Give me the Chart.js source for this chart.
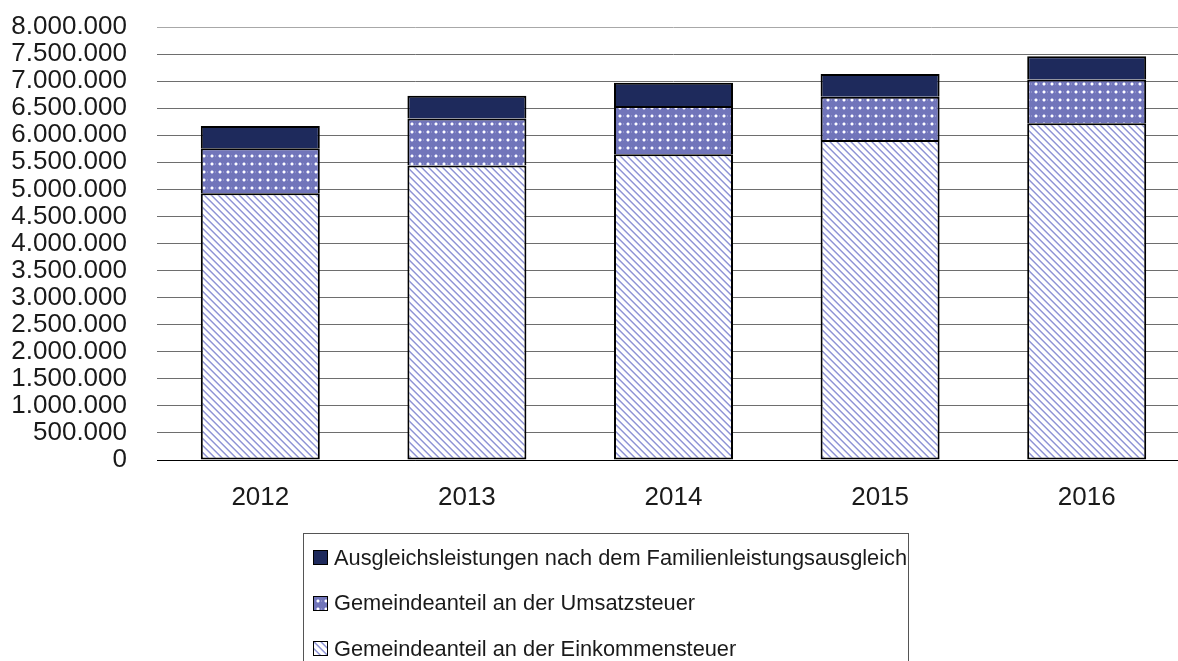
<!DOCTYPE html>
<html>
<head>
<meta charset="utf-8">
<script src="https://cdn.jsdelivr.net/npm/chart.js@4/dist/chart.umd.min.js"></script>
<style>
  html, body { margin: 0; padding: 0; background: #fff; overflow: hidden; }
  #wrap { position: relative; width: 1192px; height: 661px; overflow: hidden; }
  #c { position: absolute; left: 0; top: -16px; }
  #legend { position: absolute; left: 303px; top: 533px; width: 606px; height: 140px;
            border: 1px solid #555; box-sizing: border-box; padding-top: 1px;
            font-family: "Liberation Sans", Arial, sans-serif; font-size: 21.8px; color: #1a1a1a; }
  .item { height: 45.5px; display: flex; align-items: center; padding-left: 9px; white-space: nowrap; }
  .item canvas { border: 1px solid #000; margin-right: 6px; display: block; }
</style>
</head>
<body>
<div id="wrap">
  <canvas id="c" width="1192" height="677"></canvas>
  <div id="legend"></div>
</div>
<script>
// ---- data ----
const years = ['2012', '2013', '2014', '2015', '2016'];
const labelEinkommen = 'Gemeindeanteil an der Einkommensteuer';
const labelUmsatz = 'Gemeindeanteil an der Umsatzsteuer';
const labelAusgleich = 'Ausgleichsleistungen nach dem Familienleistungsausgleich';
const einkommensteuer = [4930000, 5440000, 5650000, 5910000, 6220000];
const umsatzsteuer = [830000, 870000, 890000, 800000, 810000];
const familienausgleich = [410000, 420000, 430000, 420000, 430000];
const yMax = 8000000;
const yStep = 500000;

// ---- patterns ----
function stripeTile() {
  const t = document.createElement('canvas'); t.width = 7; t.height = 7;
  const g = t.getContext('2d');
  g.fillStyle = '#ffffff'; g.fillRect(0, 0, 7, 7);
  for (let i = 0; i < 7; i++) {
    g.fillStyle = '#8f94d3'; g.fillRect(i, i, 1, 1);
    g.fillStyle = '#b3b6e4'; g.fillRect((i + 1) % 7, i, 1, 1);
    g.fillStyle = '#d4d6f1'; g.fillRect((i + 6) % 7, i, 1, 1);
  }
  return t;
}
function dotTile() {
  const t = document.createElement('canvas'); t.width = 8; t.height = 8;
  const g = t.getContext('2d');
  g.fillStyle = '#7175ba'; g.fillRect(0, 0, 8, 8);
  g.fillStyle = '#a9acdc'; g.fillRect(2, 3, 4, 2); g.fillRect(3, 2, 2, 4);
  g.fillStyle = '#ffffff'; g.fillRect(3, 3, 2, 2);
  g.fillStyle = '#8d90c8'; g.fillRect(7, 3, 1, 2);
  return t;
}
const ctx = document.getElementById('c').getContext('2d');
const stripePattern = ctx.createPattern(stripeTile(), 'repeat');
const dotPattern = ctx.createPattern(dotTile(), 'repeat');
const navy = '#1e2a5c';

function fmt(v) { return String(v).replace(/\B(?=(\d{3})+(?!\d))/g, '.'); }

const chart = new Chart(ctx, {
  type: 'bar',
  data: {
    labels: years,
    datasets: [
      { label: labelEinkommen, data: einkommensteuer, backgroundColor: stripePattern,
        borderColor: '#000', borderWidth: { top: 2, bottom: 2, left: 2, right: 2 }, borderSkipped: false },
      { label: labelUmsatz, data: umsatzsteuer, backgroundColor: dotPattern,
        borderColor: '#000', borderWidth: { top: 2, bottom: 0, left: 2, right: 2 }, borderSkipped: false },
      { label: labelAusgleich, data: familienausgleich, backgroundColor: navy,
        borderColor: '#000', borderWidth: { top: 2, bottom: 0, left: 2, right: 2 }, borderSkipped: false }
    ]
  },
  options: {
    responsive: false,
    animation: false,
    layout: { padding: { left: 0, right: 2, top: 10, bottom: 0 } },
    plugins: { legend: { display: false }, tooltip: { enabled: false } },
    datasets: { bar: { barPercentage: 0.576, categoryPercentage: 1 } },
    scales: {
      x: {
        stacked: true,
        grid: { display: false, drawTicks: false },
        border: { display: true, color: '#000', width: 1 },
        ticks: { color: '#1a1a1a', padding: 22, font: { family: '"Liberation Sans", Arial, sans-serif', size: 26 } },
        afterFit: (s) => { s.height = 201; }
      },
      y: {
        stacked: true,
        min: 0, max: yMax,
        grid: {
          drawTicks: false,
          color: (c) => c.tick && c.tick.value === 0 ? '#000' : (c.tick && c.tick.value === yMax ? '#a8a8a8' : '#6e6e6e'),
          lineWidth: 1
        },
        border: { display: false },
        ticks: {
          stepSize: yStep, padding: 30, color: '#1a1a1a', autoSkip: false,
          font: { family: '"Liberation Sans", Arial, sans-serif', size: 26, lineHeight: 1.0 },
          callback: (v) => fmt(v)
        },
        afterFit: (s) => { s.width = 157; }
      }
    }
  }
});

// ---- HTML legend (reverse order, like the reference) ----
const legend = document.getElementById('legend');
const legendItems = [
  { text: labelAusgleich, fill: navy },
  { text: labelUmsatz, fill: 'dots' },
  { text: labelEinkommen, fill: 'stripes' }
];
legendItems.forEach(it => {
  const row = document.createElement('div'); row.className = 'item';
  const sw = document.createElement('canvas'); sw.width = 13; sw.height = 13;
  const g = sw.getContext('2d');
  g.fillStyle = it.fill === 'dots' ? g.createPattern(dotTile(), 'repeat')
             : it.fill === 'stripes' ? g.createPattern(stripeTile(), 'repeat') : it.fill;
  g.fillRect(0, 0, 13, 13);
  const span = document.createElement('span'); span.textContent = it.text;
  row.appendChild(sw); row.appendChild(span);
  legend.appendChild(row);
});
</script>
</body>
</html>
